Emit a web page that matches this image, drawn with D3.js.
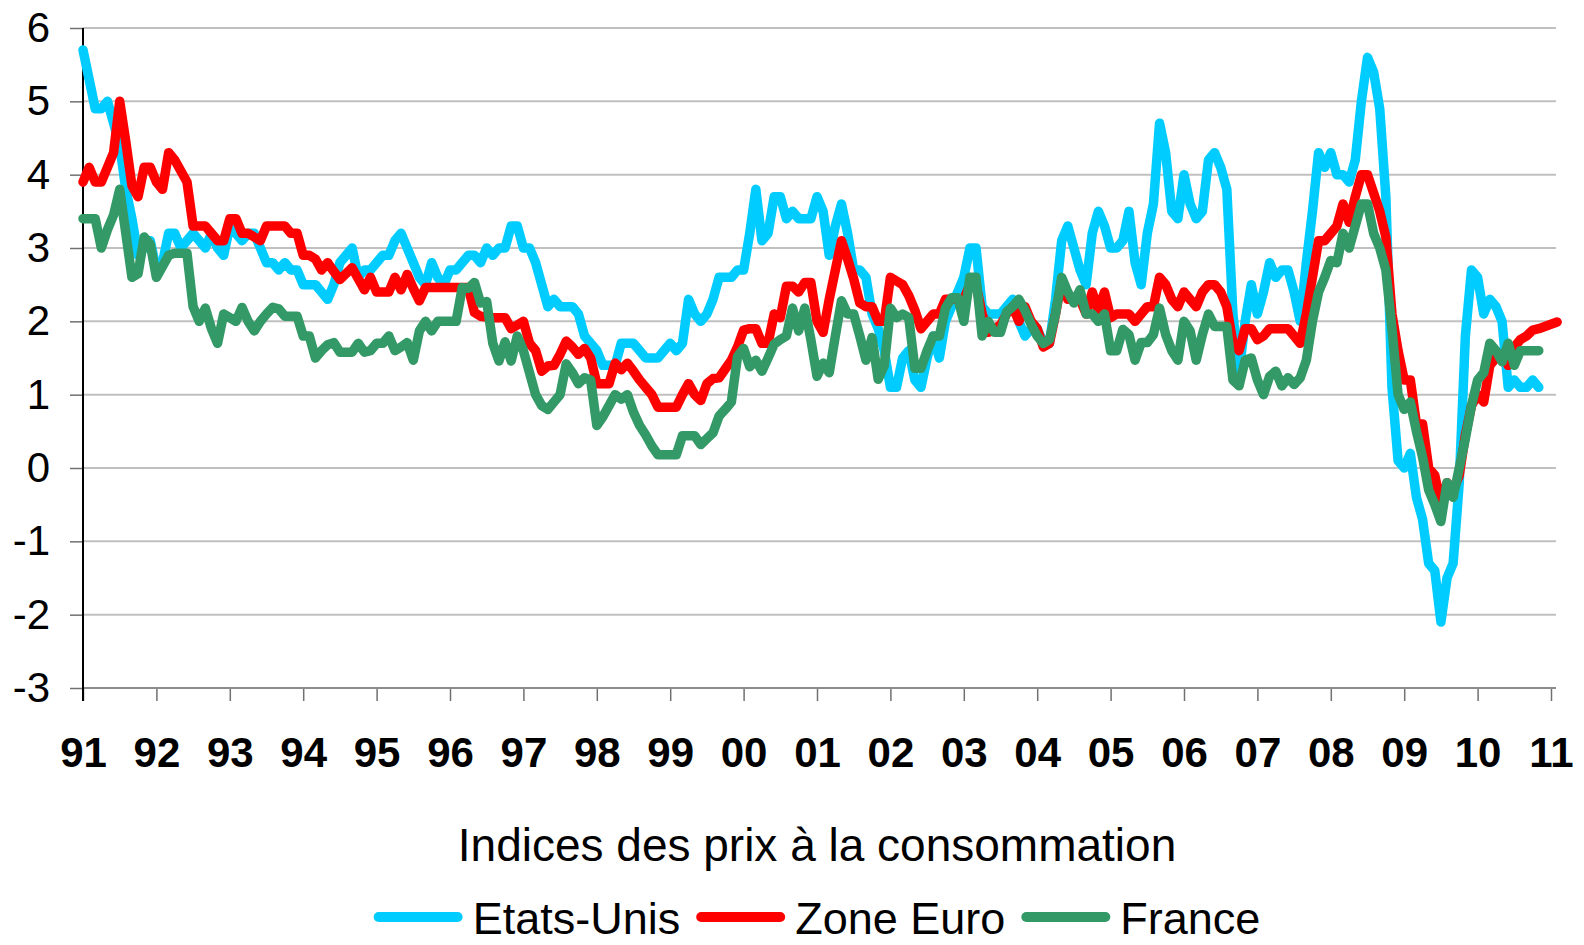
<!DOCTYPE html>
<html>
<head>
<meta charset="utf-8">
<script src="https://cdn.jsdelivr.net/npm/d3@7"></script>
<style>
  body { margin: 0; background: #fff; }
  svg { display: block; font-family: "Liberation Sans", Arial, sans-serif; }
</style>
</head>
<body>
<svg id="chart" width="1584" height="945"></svg>
<script>
// monthly year-on-year CPI, first point = January 1991
const yearLabels = ['91','92','93','94','95','96','97','98','99','00','01','02','03','04','05','06','07','08','09','10','11'];
const yTicks = [-3, -2, -1, 0, 1, 2, 3, 4, 5, 6];
const seriesNames = ['Etats-Unis', 'Zone Euro', 'France'];
const seriesColors = ['#00ccff', '#ff0000', '#339966'];

const usValues = [
  5.7, 5.3, 4.9, 4.9, 5.0, 4.7, 4.4, 3.8, 3.4, 2.9, 3.0, 3.1,
  2.7, 2.8, 3.2, 3.2, 3.0, 3.1, 3.2, 3.1, 3.0, 3.2, 3.0, 2.9,
  3.3, 3.2, 3.1, 3.2, 3.2, 3.0, 2.8, 2.8, 2.7, 2.8, 2.7, 2.7,
  2.5, 2.5, 2.5, 2.4, 2.3, 2.5, 2.8, 2.9, 3.0, 2.6, 2.7, 2.7,
  2.8, 2.9, 2.9, 3.1, 3.2, 3.0, 2.8, 2.6, 2.5, 2.8, 2.6, 2.5,
  2.7, 2.7, 2.8, 2.9, 2.9, 2.8, 3.0, 2.9, 3.0, 3.0, 3.3, 3.3,
  3.0, 3.0, 2.8, 2.5, 2.2, 2.3, 2.2, 2.2, 2.2, 2.1, 1.8, 1.7,
  1.6, 1.4, 1.4, 1.4, 1.7, 1.7, 1.7, 1.6, 1.5, 1.5, 1.5, 1.6,
  1.7, 1.6, 1.7, 2.3, 2.1, 2.0, 2.1, 2.3, 2.6, 2.6, 2.6, 2.7,
  2.7, 3.2, 3.8, 3.1, 3.2, 3.7, 3.7, 3.4, 3.5, 3.4, 3.4, 3.4,
  3.7, 3.5, 2.9, 3.3, 3.6, 3.2, 2.7, 2.7, 2.6, 2.1, 1.9, 1.6,
  1.1, 1.1, 1.5, 1.6, 1.2, 1.1, 1.5, 1.8, 1.5, 2.0, 2.2, 2.4,
  2.6, 3.0, 3.0, 2.2, 2.1, 2.1, 2.1, 2.2, 2.3, 2.0, 1.8, 1.9,
  1.9, 1.7, 1.7, 2.3, 3.1, 3.3, 3.0, 2.7, 2.5, 3.2, 3.5, 3.3,
  3.0, 3.0, 3.1, 3.5, 2.8, 2.5, 3.2, 3.6, 4.7, 4.3, 3.5, 3.4,
  4.0, 3.6, 3.4, 3.5, 4.2, 4.3, 4.1, 3.8, 2.1, 1.3, 2.0, 2.5,
  2.1, 2.4, 2.8, 2.6, 2.7, 2.7, 2.4, 2.0, 2.8, 3.5, 4.3, 4.1,
  4.3, 4.0, 4.0, 3.9, 4.2, 5.0, 5.6, 5.4, 4.9, 3.7, 1.1, 0.1,
  0.0, 0.2, -0.4, -0.7, -1.3, -1.4, -2.1, -1.5, -1.3, -0.2, 1.8, 2.7,
  2.6, 2.1, 2.3, 2.2, 2.0, 1.1, 1.2, 1.1, 1.1, 1.2, 1.1
];

const euroValues = [
  3.9, 4.1, 3.9, 3.9, 4.1, 4.3, 5.0, 4.45, 3.85, 3.7, 4.1, 4.1,
  3.9, 3.8, 4.3, 4.2, 4.05, 3.9, 3.3, 3.3, 3.3, 3.2, 3.1, 3.1,
  3.4, 3.4, 3.2, 3.2, 3.15, 3.1, 3.3, 3.3, 3.3, 3.3, 3.2, 3.2,
  2.9, 2.9, 2.85, 2.7, 2.8, 2.68, 2.57, 2.65, 2.73, 2.58, 2.43, 2.6,
  2.4, 2.4, 2.4, 2.6, 2.43, 2.64, 2.45, 2.28, 2.46, 2.46, 2.46, 2.46,
  2.46, 2.46, 2.46, 2.46, 2.12, 2.07, 2.06, 2.05, 2.05, 2.05, 1.9, 1.95,
  2.0, 1.7, 1.6, 1.32, 1.39, 1.4, 1.55, 1.73, 1.65, 1.55, 1.63, 1.5,
  1.15, 1.15, 1.15, 1.43, 1.34, 1.43, 1.32, 1.2, 1.1, 1.0, 0.83, 0.83,
  0.83, 0.83, 1.0, 1.15, 1.0, 0.92, 1.15, 1.22, 1.23, 1.35, 1.47, 1.65,
  1.88, 1.9, 1.9, 1.7, 1.7, 2.1, 2.05, 2.48, 2.48, 2.4, 2.53, 2.53,
  2.0, 1.85, 2.3, 2.7, 3.1, 2.85, 2.58, 2.25, 2.2, 2.2, 2.0, 2.0,
  2.6, 2.55, 2.5, 2.35, 2.15, 1.9, 2.0, 2.1, 2.1, 2.3, 2.3, 2.3,
  2.3, 2.5, 2.5, 2.1, 1.85, 1.9, 1.95, 2.1, 2.2, 2.0, 2.2, 2.0,
  1.9, 1.65, 1.7, 2.1, 2.55, 2.3, 2.3, 2.3, 2.1, 2.4, 2.15, 2.4,
  2.05, 2.1, 2.1, 2.1, 2.0, 2.1, 2.2, 2.2, 2.6, 2.5, 2.3, 2.2,
  2.4, 2.3, 2.2, 2.4, 2.5, 2.5, 2.4, 2.2, 1.7, 1.6, 1.9, 1.9,
  1.75, 1.8, 1.9, 1.9, 1.9, 1.9, 1.8, 1.7, 2.1, 2.6, 3.1, 3.1,
  3.2, 3.3, 3.6, 3.35, 3.7, 4.0, 4.0, 3.75, 3.5, 3.15, 2.1, 1.6,
  1.2, 1.2, 0.6, 0.6, 0.0, -0.1, -0.5, -0.2, -0.3, -0.1, 0.45, 0.85,
  1.0, 0.9, 1.4, 1.5, 1.55, 1.4, 1.65, 1.75, 1.8, 1.88, 1.9, 1.93,
  1.96, 1.99
];

const franceValues = [
  3.4, 3.4, 3.4, 3.0, 3.25, 3.45, 3.8, 3.2, 2.6, 2.65, 3.15, 3.05,
  2.6, 2.75, 2.9, 2.93, 2.93, 2.93, 2.2, 2.0, 2.18, 1.9, 1.7, 2.1,
  2.05, 2.0, 2.19, 2.0, 1.87, 2.0, 2.1, 2.19, 2.17, 2.07, 2.07, 2.07,
  1.8, 1.8, 1.5, 1.6, 1.68, 1.71, 1.58, 1.58, 1.58, 1.7, 1.58, 1.6,
  1.7, 1.7, 1.8, 1.6, 1.65, 1.71, 1.47, 1.87, 2.0, 1.87, 2.0, 2.0,
  2.0, 2.0, 2.46, 2.45, 2.53, 2.25, 2.27, 1.7, 1.46, 1.72, 1.46, 1.8,
  1.6, 1.3, 1.0, 0.85, 0.8, 0.9, 1.0, 1.42, 1.3, 1.15, 1.23, 1.2,
  0.58, 0.7, 0.85, 1.0, 0.94, 1.0, 0.76, 0.58, 0.45, 0.3, 0.18, 0.18,
  0.18, 0.18, 0.44, 0.44, 0.44, 0.32, 0.4, 0.48, 0.71, 0.8, 0.9, 1.52,
  1.63, 1.38, 1.47, 1.32, 1.5, 1.69, 1.75, 1.8, 2.18, 1.87, 2.18, 1.75,
  1.25, 1.43, 1.3, 1.8, 2.28, 2.1, 2.1, 1.8, 1.47, 1.78, 1.21, 1.4,
  2.18, 2.05, 2.1, 2.05, 1.36, 1.36, 1.6, 1.8, 1.8, 2.18, 2.32, 2.32,
  2.0, 2.6, 2.6, 1.8, 2.0, 1.85, 1.85, 2.13, 2.2, 2.3, 2.15, 1.96,
  1.8, 1.7, 1.75, 2.1, 2.6, 2.4, 2.25, 2.43, 2.1, 2.1, 2.0, 2.1,
  1.6, 1.6, 1.89, 1.82, 1.47, 1.71, 1.71, 1.82, 2.18, 1.82, 1.6, 1.47,
  2.0, 1.87, 1.47, 1.82, 2.1, 1.93, 1.93, 1.93, 1.2, 1.12, 1.47, 1.5,
  1.2, 1.0, 1.25, 1.32, 1.12, 1.23, 1.14, 1.23, 1.47, 2.0, 2.4, 2.6,
  2.83, 2.8, 3.2, 3.0, 3.3, 3.6, 3.6, 3.2, 3.0, 2.7, 1.9, 1.0,
  0.8, 0.9, 0.5, 0.15, -0.3, -0.5, -0.73, -0.2, -0.4, 0.0, 0.4, 0.85,
  1.2, 1.3, 1.7, 1.6, 1.45, 1.7, 1.4, 1.6, 1.6, 1.6, 1.6
];

const svg = d3.select('#chart');

const x = d3.scaleLinear()
    .domain([0, 240])          // months since Jan 1991
    .range([83, 1551]);
const y = d3.scaleLinear()
    .domain([-3, 6])
    .range([688, 28]);
const gridRight = 1556;

// horizontal gridlines
svg.append('g')
    .selectAll('line')
    .data(yTicks.filter(v => v > -3))
    .enter().append('line')
    .attr('x1', x(0)).attr('x2', gridRight)
    .attr('y1', d => y(d)).attr('y2', d => y(d))
    .attr('stroke', '#c0c0c0')
    .attr('stroke-width', 2);

// x axis (ticks every 12 months)
const xAxis = d3.axisBottom(x)
    .tickValues(d3.range(0, 241, 12))
    .tickFormat((d, i) => yearLabels[i])
    .tickSize(13)
    .tickSizeOuter(0)
    .tickPadding(36);
const gx = svg.append('g')
    .attr('transform', `translate(0,${y(-3)})`)
    .call(xAxis);
gx.select('.domain').remove();
gx.selectAll('.tick line').attr('stroke', '#707070').attr('stroke-width', 1.5);
gx.selectAll('.tick text')
    .attr('fill', '#000')
    .style('font-family', '"Liberation Sans", Arial, sans-serif')
    .style('font-size', '42px')
    .style('font-weight', 'bold');
gx.append('line')
    .attr('x1', x(0)).attr('x2', gridRight)
    .attr('y1', 0).attr('y2', 0)
    .attr('stroke', '#8c8c8c')
    .attr('stroke-width', 2);

// y axis (plain hyphen for negatives, as in the original)
const yAxis = d3.axisLeft(y)
    .tickValues(yTicks)
    .tickFormat(d => String(d))
    .tickSize(13)
    .tickSizeOuter(0)
    .tickPadding(20);
const gy = svg.append('g')
    .attr('transform', `translate(${x(0)},0)`)
    .call(yAxis);
gy.select('.domain').remove();
gy.selectAll('.tick line').attr('stroke', '#707070').attr('stroke-width', 1.5);
gy.selectAll('.tick text')
    .attr('fill', '#000')
    .style('font-family', '"Liberation Sans", Arial, sans-serif')
    .style('font-size', '42px');
gy.append('line')
    .attr('x1', 0).attr('x2', 0)
    .attr('y1', y(6)).attr('y2', y(-3) + 13)
    .attr('stroke', '#000')
    .attr('stroke-width', 2);

// series lines
const line = d3.line()
    .x((d, i) => x(i))
    .y(d => y(d));

const allSeries = [usValues, euroValues, franceValues];
svg.append('g')
    .selectAll('path')
    .data(allSeries)
    .enter().append('path')
    .attr('d', d => line(d))
    .attr('fill', 'none')
    .attr('stroke', (d, i) => seriesColors[i])
    .attr('stroke-width', 9.5)
    .attr('stroke-linejoin', 'round')
    .attr('stroke-linecap', 'round');

// title
svg.append('text')
    .attr('x', (x(0) + x(240)) / 2)
    .attr('y', 861)
    .attr('text-anchor', 'middle')
    .style('font-size', '46px')
    .text('Indices des prix à la consommation');

// legend, laid out left to right then centred
const legend = svg.append('g');
let cursor = 0;
seriesNames.forEach((name, i) => {
    const item = legend.append('g').attr('transform', `translate(${cursor},0)`);
    item.append('line')
        .attr('x1', 5).attr('x2', 84)
        .attr('y1', -17).attr('y2', -17)
        .attr('stroke', seriesColors[i])
        .attr('stroke-width', 10)
        .attr('stroke-linecap', 'round');
    const t = item.append('text')
        .attr('x', 99)
        .style('font-size', '45px')
        .text(name);
    cursor += 99 + t.node().getComputedTextLength() + 16;
});
const legendWidth = cursor - 16;
legend.attr('transform', `translate(${(x(0) + x(240)) / 2 - legendWidth / 2},934)`);
</script>
</body>
</html>
